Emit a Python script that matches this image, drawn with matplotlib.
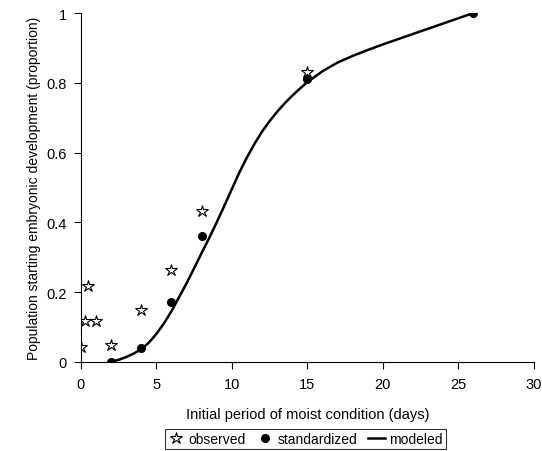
import matplotlib.pyplot as plt

plt.rcParams['font.family'] = ['Liberation Sans', 'DejaVu Sans']

# observed proportions
obs_x = [0, 0.25, 0.5, 1, 2, 4, 6, 8, 15]
obs_y = [0.043, 0.117, 0.218, 0.117, 0.049, 0.149, 0.264, 0.433, 0.831]

# standardized proportions
std_x = [2, 4, 6, 8, 15, 26]
std_y = [0.0, 0.04, 0.172, 0.361, 0.811, 1.0]

# modeled curve
mod_x = [2, 2.5, 3, 3.5, 4, 4.5, 5, 5.5, 6, 6.5, 7, 7.5, 8, 8.5, 9, 9.5, 10,
         10.5, 11, 11.5, 12, 12.5, 13, 13.5, 14, 14.5, 15, 16, 17, 18, 19, 20,
         21, 22, 23, 24, 25, 26]
mod_y = [0.0, 0.006, 0.014, 0.024, 0.036, 0.055, 0.08, 0.11, 0.145, 0.185, 0.225,
         0.268, 0.312, 0.355, 0.4, 0.447, 0.495, 0.543, 0.586, 0.625, 0.66, 0.69,
         0.717, 0.741, 0.763, 0.783, 0.802, 0.833, 0.858, 0.877, 0.894, 0.91,
         0.925, 0.94, 0.955, 0.97, 0.985, 1.0]

fig = plt.figure(figsize=(5.42, 4.52), dpi=100)
ax = fig.add_axes([0.149, 0.197, 0.836, 0.772])

ax.plot(mod_x, mod_y, '-', color='black', lw=1.8, label='modeled')
ax.plot(obs_x, obs_y, linestyle='none', marker='*', ms=9, mfc='none',
        mec='black', mew=0.8, label='observed')
ax.plot(std_x, std_y, linestyle='none', marker='o', ms=5.5, color='black',
        label='standardized')

ax.set_xlim(0, 30)
ax.set_ylim(0, 1)
ax.set_xticks([0, 5, 10, 15, 20, 25, 30])
ax.set_yticks([0, 0.2, 0.4, 0.6, 0.8, 1])
ax.set_yticklabels(['0', '0.2', '0.4', '0.6', '0.8', '1'])
ax.spines['top'].set_visible(False)
ax.spines['right'].set_visible(False)
ax.tick_params(labelsize=10.5, direction='out', length=5)
ax.tick_params(axis='x', pad=6)
ax.tick_params(axis='y', pad=5)

ax.set_xlabel('Initial period of moist condition (days)', fontsize=10.5, labelpad=11)
ax.set_ylabel('Population starting embryonic development (proportion)', fontsize=10)

h, l = ax.get_legend_handles_labels()
order = [1, 2, 0]
leg = fig.legend([h[i] for i in order], [l[i] for i in order], loc='center',
                 bbox_to_anchor=(0.563, 0.026), ncol=3, frameon=True, fancybox=False,
                 edgecolor='black', fontsize=10, handlelength=1.2, handletextpad=0.3,
                 columnspacing=0.8, borderpad=0.2)
leg.get_frame().set_linewidth(0.8)

fig.savefig('out.png', dpi=100)
